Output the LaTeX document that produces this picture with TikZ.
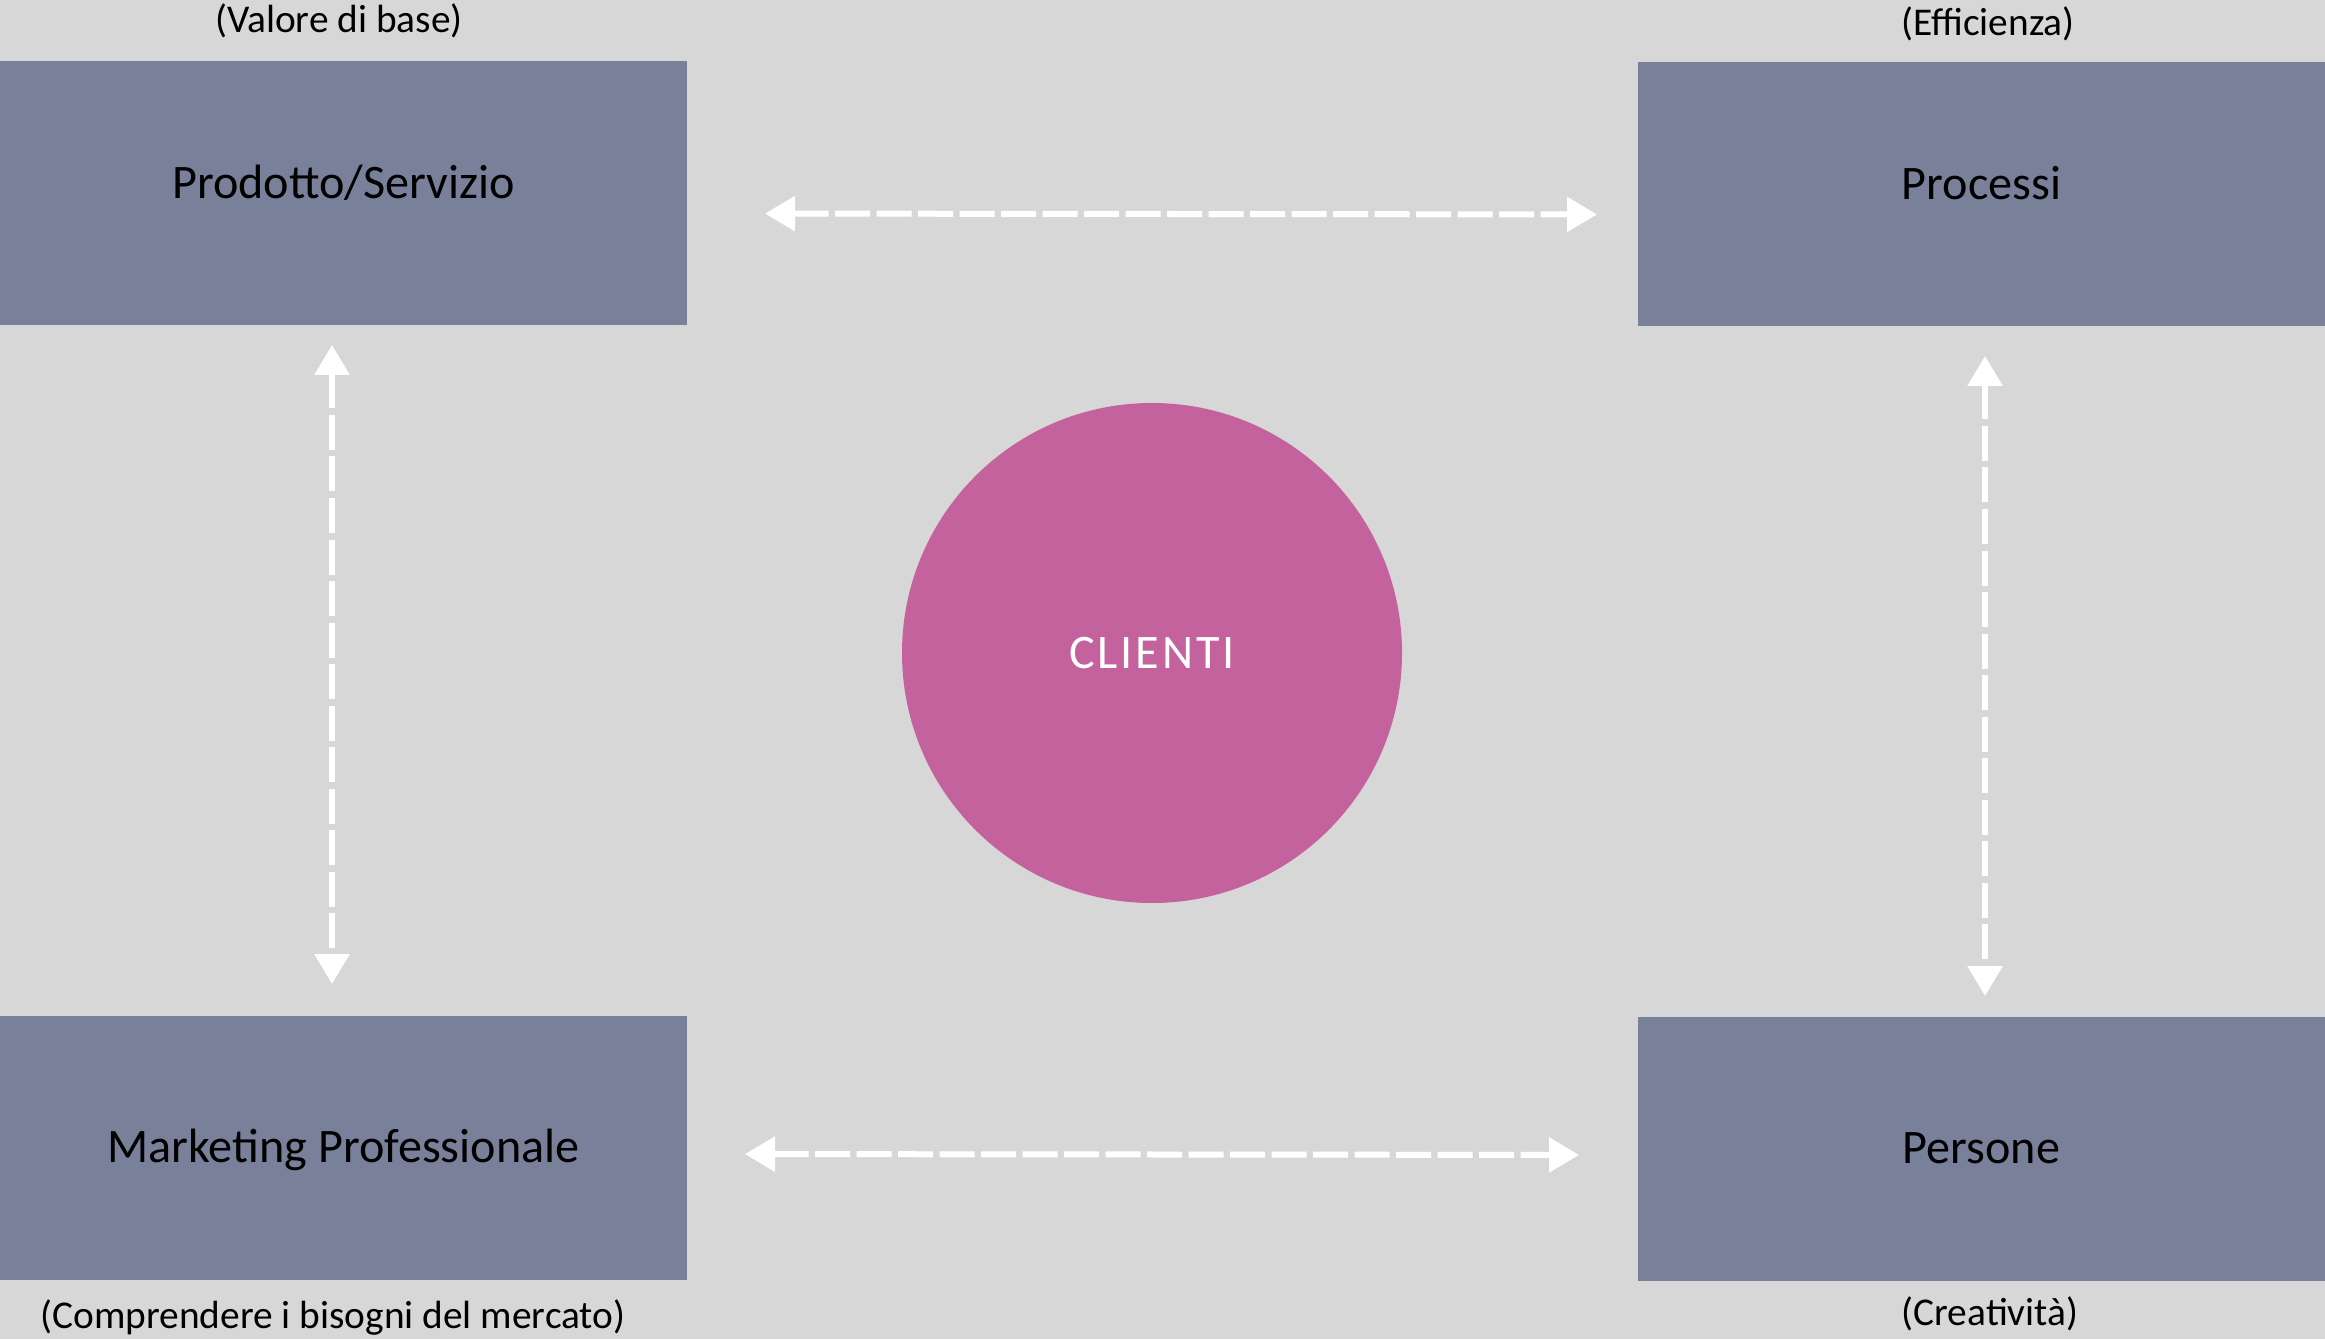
\documentclass[tikz,border=0pt]{standalone}
\usepackage{fontspec}
\setmainfont{Carlito}
\usetikzlibrary{arrows.meta}
\definecolor{paleground}{RGB}{215,215,215}
\definecolor{slateblue}{RGB}{121,128,153}
\definecolor{orchid}{RGB}{196,98,158}
\newfontfamily\clientfont[LetterSpace=6]{Carlito}

\begin{document}
\begin{tikzpicture}[
    pillar/.style={fill=slateblue, minimum width=6.87cm, minimum height=2.64cm, inner sep=0pt, outer sep=0pt,
        font=\fontsize{13.7}{16}\selectfont, text height=0.31cm},
    note/.style={font=\fontsize{11.2}{13}\selectfont, anchor=base},
    link/.style={white, line width=0.06cm, dash pattern=on 0.35cm off 0.065cm,
        >={Triangle[length=0.3cm,width=0.34cm]}, <->}
]
    % Background
    \fill[paleground] (0,0) rectangle (23.25,13.39);
    \useasboundingbox (0,0) rectangle (23.25,13.39);

    % Four pillars
    \node[pillar, text depth=0.19cm] (prodotto) at (3.435,11.46) {Prodotto/Servizio};
    \node[pillar, text depth=0.19cm] (processi) at (19.815,11.45) {Processi};
    \node[pillar, text depth=0.03cm] (marketing) at (3.435,1.91) {Marketing Professionale};
    \node[pillar, text depth=0.03cm] (persone) at (19.815,1.90) {Persone};

    % Notes under and over the pillars
    \node[note] (valore) at (3.39,13.06) {(Valore di base)};
    \node[note] (efficienza) at (19.88,13.03) {(Efficienza)};
    \node[note] (mercato) at (3.33,0.11) {(Comprendere i bisogni del mercato)};
    \node[note] (creativita) at (19.90,0.14) {(Creatività)};

    % Customers in the middle
    \node[circle, fill=orchid, minimum size=5cm, inner sep=0pt, text=white,
        font=\clientfont\fontsize{13.7}{16}\selectfont] (clienti) at (11.52,6.86) {CLIENTI};

    % Links between the pillars
    \draw[link, shorten <=0.78cm, shorten >=0.41cm] ([yshift=-0.205cm]prodotto.east) -- ([yshift=-0.205cm]processi.west);
    \draw[link, shorten <=0.58cm, shorten >=0.59cm] ([yshift=-0.06cm]marketing.east) -- ([yshift=-0.06cm]persone.west);
    \draw[link, shorten <=0.20cm, shorten >=0.32cm] ([xshift=-0.115cm]prodotto.south) -- ([xshift=-0.115cm]marketing.north);
    \draw[link, shorten <=0.30cm, shorten >=0.21cm] ([xshift=0.035cm]processi.south) -- ([xshift=0.035cm]persone.north);
\end{tikzpicture}
\end{document}
